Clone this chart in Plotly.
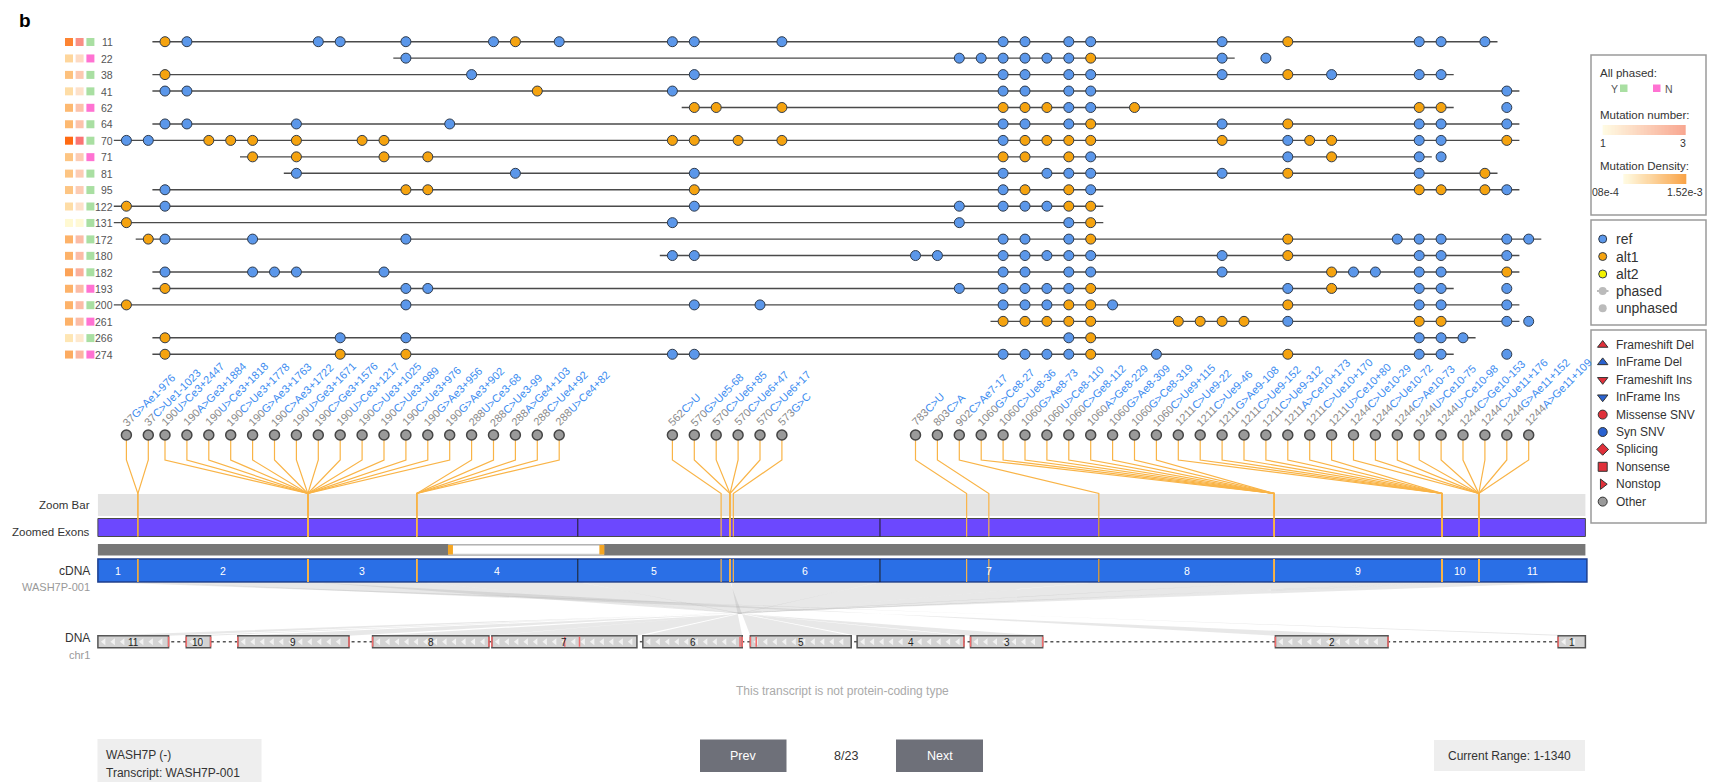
import numpy as np
import plotly.graph_objects as go

# ------------------------------------------------------------------ data
SAMPLES = [11, 22, 38, 41, 62, 64, 70, 71, 81, 95,
           122, 131, 172, 180, 182, 193, 200, 261, 266, 274]

# per-sample summaries shown as the two coloured squares
MUT_DENSITY = [1.31e-3, 5.3e-4, 7.4e-4, 4.6e-4, 8.2e-4, 8.2e-4, 1.52e-3, 7.0e-4, 7.0e-4, 7.0e-4,
               4.6e-4, 1.4e-4, 8.9e-4, 8.9e-4, 1.03e-3, 8.9e-4, 8.9e-4, 8.9e-4, 3.6e-4, 9.6e-4]
MUT_NUMBER = [2.7, 1.6, 1.9, 1.5, 2.0, 2.0, 3.0, 1.85, 1.85, 1.85,
              1.5, 1.05, 2.1, 2.1, 2.3, 2.1, 2.1, 2.1, 1.35, 2.2]

# called alleles per variant site: "<site><allele>", R = ref, A = alt1,
# upper case = phased, lower case = unphased
HAPLOTYPES = [
    "2A 3R 9R 10R 13R 17R 18A 20R 21R 22R 26R 31R 32R 34R 35R 41R 44A 50R 51R 53R",
    "13R 29R 30R 31R 32R 33R 34R 35A 41R 43r",
    "2A 16R 22R 31R 32R 34R 35R 41R 44A 46R 50R 51R",
    "2R 3R 19A 21R 31R 32R 34R 35R 54R",
    "22A 23A 26A 31A 32A 33A 34R 35R 37A 50A 51A 54r",
    "2R 3R 8R 15R 31R 32R 34R 35A 41R 44A 50R 51R 54R",
    "0R 1R 4A 5A 6A 8A 11A 12A 21A 22A 24A 26A 31R 32A 33A 34A 35A 41A 44R 45A 46A 50R 51R 54A",
    "6A 8A 12A 14A 31A 32A 34A 35R 44R 46A 50R 51r",
    "8R 18R 22R 31R 33R 34R 35R 41R 44A 50R 53A",
    "2R 13A 14A 22A 31R 32A 34A 35R 50A 51A 53A 54R",
    "0A 2R 22R 29R 31R 32R 33R 34A 35A",
    "0A 21R 29R 34R 35A",
    "1A 2R 6R 13R 31R 32R 34R 35A 44A 49R 50R 51R 54R 55R",
    "21R 22R 27R 28R 31R 32R 33R 34R 35R 41R 44A 50R 51R 54R",
    "2R 6R 7R 8R 12R 31R 32R 34R 35R 41R 46A 47R 48R 50R 51R 54A",
    "2A 13R 14R 29R 31R 32R 33R 34R 35A 44R 46A 50R 51R 54r",
    "0A 13R 22R 25R 31R 32R 33R 34A 35A 36R 44A 50R 51R 54R",
    "31A 32A 33A 34A 35A 39A 40A 41A 42A 44R 50A 51A 54R 55r",
    "2A 10R 13R 34R 35A 50R 51R 52R",
    "2A 10A 13A 21R 22R 31R 32R 33R 34R 35A 38R 44A 50R 51R 54r",
]

# variant sites: cDNA position and change
SITE_CDNA = [37, 37, 190, 190, 190, 190, 190, 190, 190, 190, 190, 190, 190, 190, 190, 190,
             288, 288, 288, 288, 288,
             562, 570, 570, 570, 570, 573,
             783, 803, 902, 1060, 1060, 1060, 1060, 1060, 1060, 1060, 1060, 1060,
             1211, 1211, 1211, 1211, 1211, 1211, 1211, 1211,
             1244, 1244, 1244, 1244, 1244, 1244, 1244, 1244, 1244]
SITE_CHANGE = ["G>Ae1-976", "C>Ue1-1023", "U>Ce3+2447", "A>Ge3+1884", "U>Ce3+1818", "C>Ue3+1778",
               "G>Ae3+1763", "C>Ae3+1722", "U>Ge3+1671", "C>Ge3+1576", "U>Ce3+1217", "C>Ue3+1025",
               "C>Ue3+989", "C>Ue3+976", "G>Ae3+956", "G>Ae3+902",
               "U>Ce3-68", "C>Ue3-99", "A>Ge4+103", "C>Ue4+92", "U>Ce4+82",
               "C>U", "G>Ue5-68", "C>Ue6+85", "C>Ue6+47", "C>Ue6+17", "G>C",
               "C>U", "C>A", "C>Ae7-17", "G>Ce8-27", "C>Ue8-36", "G>Ae8-73", "U>Ce8-110",
               "C>Ge8-112", "A>Ge8-229", "G>Ae8-309", "G>Ce8-319", "C>Ue9+115",
               "C>Ue9-22", "C>Ue9-46", "G>Ae9-108", "C>Ue9-152", "C>Ue9-312", "A>Ce10+173",
               "C>Ue10+170", "U>Ce10+80",
               "C>Ue10-29", "C>Ue10-72", "C>Ae10-73", "U>Ce10-75", "U>Ce10-98", "C>Ge10-153",
               "C>Ue11+176", "G>Ae11+152", "A>Ge11+109"]

GENE, STRAND, TRANSCRIPT, CHROM = "WASH7P", "-", "WASH7P-001", "chr1"
CDNA_LENGTH = 1340
EXON_ENDS = [37, 190, 288, 433, 570, 705, 902, 1060, 1211, 1244, 1340]
INTRON_LEN = [231, 316, 9, 8, 11, 8, 4, 32, 37, 24]   # compressed, exon k -> k+1
ZOOM_WINDOW = (317, 456)
PAGE, PAGES = 8, 23

# ------------------------------------------------------------------ style / layout
FONT = "Arial, 'Liberation Sans', Helvetica, sans-serif"
W, H = 1715, 782
REF_C, ALT_C, ALT2_C, EDGE_C = "#5B97EA", "#F5A30F", "#F2F200", "#2F3B4C"
LINK_C = "#F9B447"
DENS_SCALE = [[0, "#FFFCD6"], [0.25, "#FEDDA6"], [0.5, "#FDBA72"], [0.75, "#FB9548"], [1, "#FF6A12"]]
NUM_SCALE = [[0, "#FFFCD6"], [0.25, "#FDE1CA"], [0.5, "#FCC3AB"], [0.75, "#F9A191"], [1, "#FA7474"]]
DENS_LEG = [[0, "#FFFBE3"], [1, "#F9A448"]]
NUM_LEG = [[0, "#FFFBE3"], [1, "#F8A791"]]
PHASE_C = {True: "#A9DFA2", False: "#FF72D2"}

TRACK_X0, TRACK_X1 = 97.9, 1585.4
ROW_Y0, ROW_DY = 41.7, 16.45
SITE_X0, SITE_STEP = 126.4, 21.9
SITE_EXTRA_GAP = {2: -5.2, 21: 91.3, 27: 111.7}    # extra spacing before site k
OVERHANG = 12.6
LABEL_DOT_Y, STUB_Y, CONV_Y = 435, 460, 493.5
ZOOMBAR_Y = (494, 516)
ZEXON_Y = (518.5, 536.5)
RANGE_Y = (544, 555.5)
CDNA_Y = (559, 582)
DNA_Y = (635.7, 647.7)

site_x = [SITE_X0]
for k in range(1, len(SITE_CDNA)):
    site_x.append(site_x[-1] + SITE_STEP + SITE_EXTRA_GAP.get(k, 0))


def cdna_x(p):
    return TRACK_X0 + (p - 1) / (CDNA_LENGTH - 1) * (TRACK_X1 - TRACK_X0)


# genomic (DNA) track: minus strand, exon 1 on the right
dna_scale = (TRACK_X1 - TRACK_X0) / (CDNA_LENGTH + sum(INTRON_LEN))
exon_starts = [1] + [e + 1 for e in EXON_ENDS[:-1]]
dna_right, dna_left = [], []
cursor = TRACK_X1
for k, (s, e) in enumerate(zip(exon_starts, EXON_ENDS)):
    dna_right.append(cursor)
    cursor -= (e - s + 1) * dna_scale
    dna_left.append(cursor)
    if k < len(INTRON_LEN):
        cursor -= INTRON_LEN[k] * dna_scale


def dna_x(p):
    k = next(i for i, e in enumerate(EXON_ENDS) if p <= e)
    return dna_right[k] - (p - exon_starts[k] + 1) * dna_scale


fig = go.Figure()
shapes, ann = [], []


def rect(x0, y0, x1, y1, fill, line=None, lw=0, layer="below"):
    shapes.append(dict(type="rect", xref="x", yref="y", x0=x0, y0=y0, x1=x1, y1=y1,
                       fillcolor=fill, line=dict(color=line or fill, width=lw), layer=layer))


def text(x, y, s, size=11, color="#333", xa="left", ya="middle", **kw):
    ann.append(dict(x=x, y=y, xref="x", yref="y", text=s, showarrow=False,
                    font=dict(family=FONT, size=size, color=color),
                    xanchor=xa, yanchor=ya, **kw))


def lines(xs, ys, color, width, dash=None):
    fig.add_trace(go.Scatter(x=xs, y=ys, mode="lines", hoverinfo="skip",
                             line=dict(color=color, width=width, dash=dash)))


def dots(xs, ys, color, size, edge=EDGE_C, ew=1, symbol="circle"):
    fig.add_trace(go.Scatter(x=xs, y=ys, mode="markers", hoverinfo="skip",
                             marker=dict(color=color, size=size, symbol=symbol,
                                         line=dict(color=edge, width=ew))))


text(25, 20, "<b>b</b>", size=19, color="#000", xa="center")

# ------------------------------------------------------------------ haplotype rows
row_y = [ROW_Y0 + i * ROW_DY for i in range(len(SAMPLES))]
parsed = [[(int(t[:-1]), t[-1]) for t in h.split()] for h in HAPLOTYPES]
all_phased = [all(a.isupper() for _, a in calls) for calls in parsed]

lx, ly = [], []
ref_x, ref_y, alt_x, alt_y = [], [], [], []
for y, calls in zip(row_y, parsed):
    ph = [k for k, a in calls if a.isupper()]
    if ph:
        lx += [site_x[min(ph)] - OVERHANG, site_x[max(ph)] + OVERHANG, None]
        ly += [y, y, None]
    for k, a in calls:
        if a.upper() == "R":
            ref_x.append(site_x[k]); ref_y.append(y)
        else:
            alt_x.append(site_x[k]); alt_y.append(y)
lines(lx, ly, "#4A4A4A", 1.4)
dots(ref_x, ref_y, REF_C, 10)
dots(alt_x, alt_y, ALT_C, 10)

sq_y = [y + 0.3 for y in row_y]
fig.add_trace(go.Scatter(x=[69] * len(SAMPLES), y=sq_y, mode="markers", hoverinfo="skip",
                         marker=dict(symbol="square", size=8, color=MUT_DENSITY,
                                     colorscale=DENS_SCALE, cmin=1.08e-4, cmax=1.52e-3)))
fig.add_trace(go.Scatter(x=[79.6] * len(SAMPLES), y=sq_y, mode="markers", hoverinfo="skip",
                         marker=dict(symbol="square", size=8, color=MUT_NUMBER,
                                     colorscale=NUM_SCALE, cmin=1, cmax=3)))
fig.add_trace(go.Scatter(x=[90.4] * len(SAMPLES), y=sq_y, mode="markers", hoverinfo="skip",
                         marker=dict(symbol="square", size=8,
                                     color=[PHASE_C[p] for p in all_phased])))
for s, y in zip(SAMPLES, row_y):
    text(115, y + 0.5, str(s), size=10.5, color="#555", xa="right")

# ------------------------------------------------------------------ transcript tracks
rect(TRACK_X0, ZOOMBAR_Y[0], TRACK_X1, ZOOMBAR_Y[1], "#E4E4E4")
rect(TRACK_X0, ZEXON_Y[0], TRACK_X1, ZEXON_Y[1], "#6C48FE", "#4A4A4A", 1)
rect(TRACK_X0, RANGE_Y[0], TRACK_X1, RANGE_Y[1], "#777777")
wx0, wx1 = cdna_x(ZOOM_WINDOW[0]), cdna_x(ZOOM_WINDOW[1])
rect(wx0, RANGE_Y[0] + 1, wx1, RANGE_Y[1] - 1, "#FFFFFF", "#C8C8C8", 1.5)
rect(wx0 - 1, RANGE_Y[0] + 1, wx0 + 4, RANGE_Y[1] - 1, "#F5A623")
rect(wx1 - 4, RANGE_Y[0] + 1, wx1 + 1, RANGE_Y[1] - 1, "#F5A623")
rect(TRACK_X0, CDNA_Y[0], TRACK_X1 + 1.5, CDNA_Y[1], "#2A6FE6", "#1C3E8E", 1.5)

# cDNA <-> DNA exon links
for k, (s, e) in enumerate(zip(exon_starts, EXON_ENDS)):
    cl = cdna_x(s) if k else TRACK_X0
    cr = cdna_x(e)
    fig.add_trace(go.Scatter(x=[cl, cr, dna_left[k], dna_right[k], cl],
                             y=[CDNA_Y[1], CDNA_Y[1], DNA_Y[0], DNA_Y[0], CDNA_Y[1]],
                             mode="lines", fill="toself", fillcolor="rgba(150,150,150,0.22)",
                             line=dict(width=0), hoverinfo="skip"))

# exon junctions
bx, by = [], []
for e in EXON_ENDS[:-1]:
    x = cdna_x(e)
    bx += [x, x, None, x, x, None]
    by += [ZEXON_Y[0], ZEXON_Y[1], None, CDNA_Y[0], CDNA_Y[1], None]
lines(bx, by, "#1E1E1E", 1)

# exon numbers
bounds = [TRACK_X0] + [cdna_x(e) for e in EXON_ENDS]
for k in range(len(EXON_ENDS)):
    text((bounds[k] + bounds[k + 1]) / 2, (CDNA_Y[0] + CDNA_Y[1]) / 2, str(k + 1),
         size=10.5, color="#FFFFFF", xa="center")

# variant labels and their links to the transcript
kx, ky = [], []
for k, p in enumerate(SITE_CDNA):
    cx = cdna_x(p)
    kx += [site_x[k], site_x[k], cx, cx, None, cx, cx, None]
    ky += [LABEL_DOT_Y, STUB_Y, CONV_Y, ZEXON_Y[1], None, CDNA_Y[0], CDNA_Y[1], None]
    text(site_x[k] - 9, LABEL_DOT_Y - 4,
         f"<span style='color:#8A8A8A'>{p}</span>{SITE_CHANGE[k]}",
         size=11, color="#3C8CF0", ya="bottom", textangle=-45)
lines(kx, ky, LINK_C, 1.2)
dots(site_x, [LABEL_DOT_Y] * len(site_x), "#9A9A9A", 10, "#454545", 1.5)

# DNA track
dxs, dys = [], []
for k in range(len(EXON_ENDS) - 1):
    dxs += [dna_left[k], dna_right[k + 1], None]
    dys += [sum(DNA_Y) / 2] * 2 + [None]
lines(dxs, dys, "#555555", 1.5, "dot")
chev_x, chev_y = [], []
for k in range(len(EXON_ENDS)):
    rect(dna_left[k], DNA_Y[0], dna_right[k], DNA_Y[1], "#D3D3D3", "#545454", 1.5)
    for x in np.arange(dna_left[k] + 6, dna_right[k] - 3, 9.5):
        chev_x.append(x); chev_y.append(sum(DNA_Y) / 2)
    text((dna_left[k] + dna_right[k]) / 2, sum(DNA_Y) / 2 + 0.5, str(k + 1), size=10, color="#222", xa="center")
fig.add_trace(go.Scatter(x=chev_x, y=chev_y, mode="markers", hoverinfo="skip",
                         marker=dict(symbol="triangle-left", size=6, color="#F2F2F2")))
rx, ry = [], []
for p in sorted(set(SITE_CDNA)):
    marks = [dna_x(p)]
    if p in EXON_ENDS[:-1]:
        marks.append(dna_right[EXON_ENDS.index(p) + 1])
    for x in marks:
        rx += [x, x, None]
        ry += [DNA_Y[0] + 1, DNA_Y[1] - 1, None]
lines(rx, ry, "#F26A6A", 1.5)

# track captions
text(92, (ZOOMBAR_Y[0] + ZOOMBAR_Y[1]) / 2, "Zoom Bar", size=11.5, color="#333", xa="right")
text(92, 532, "Zoomed Exons", size=11.5, color="#333", xa="right")
text(92, 570.5, "cDNA", size=12, color="#333", xa="right")
text(92, 587, TRANSCRIPT, size=11, color="#999", xa="right")
text(92, 638, "DNA", size=12, color="#333", xa="right")
text(92, 654.5, CHROM, size=11, color="#999", xa="right")
text(842, 691, "This transcript is not protein-coding type", size=12, color="#AAAAAA", xa="center")

# ------------------------------------------------------------------ footer controls
rect(97.5, 739, 261.5, 782, "#EEEEEE")
text(104, 755, f"{GENE} ({STRAND})", size=12, color="#333")
text(104, 773, f"Transcript: {TRANSCRIPT}", size=12, color="#333")
rect(700, 739.5, 786.5, 772, "#6E7079")
text(743, 756, "Prev", size=12.5, color="#FFFFFF", xa="center")
text(845.5, 756, f"{PAGE}/{PAGES}", size=12.5, color="#333", xa="center")
rect(896, 739.5, 983, 772, "#6E7079")
text(939.5, 756, "Next", size=12.5, color="#FFFFFF", xa="center")
rect(1434, 740, 1585, 771, "#EEEEEE")
text(1509.5, 756, f"Current Range: 1-{CDNA_LENGTH}", size=12, color="#333", xa="center")

# ------------------------------------------------------------------ legends
LX0, LX1 = 1591, 1706
rect(LX0, 55, LX1, 215, "#FFFFFF", "#9A9A9A", 1.5)
text(1598, 72.5, "All phased:", size=11.5)
text(1609, 88.5, "Y", size=10.5, color="#555")
rect(1620, 84.5, 1627.5, 92, PHASE_C[True])
rect(1653, 84.5, 1660.5, 92, PHASE_C[False])
text(1663, 88.5, "N", size=10.5, color="#555")
text(1598, 115, "Mutation number:", size=11.5)
text(1598, 166, "Mutation Density:", size=11.5)
for (x0, x1, yc, scale) in [(1602.7, 1686, 130, NUM_LEG), (1623.3, 1686, 179, DENS_LEG)]:
    n = 60
    fig.add_trace(go.Heatmap(z=[np.linspace(0, 1, n)], x0=x0 + (x1 - x0) / n / 2, dx=(x1 - x0) / n,
                             y0=yc, dy=10, colorscale=scale, showscale=False, hoverinfo="skip"))
text(1598, 142.5, "1", size=10.5, color="#333")
text(1688, 142.5, "3", size=10.5, color="#333", xa="right")
text(1590, 192, "08e-4", size=10.5, color="#333")
text(1705, 192, "1.52e-3", size=10.5, color="#333", xa="right")

rect(LX0, 220, LX1, 325, "#FFFFFF", "#9A9A9A", 1.5)
leg2 = ["ref", "alt1", "alt2", "phased", "unphased"]
leg2_y = [239, 256.5, 274, 291, 308.3]
dots([1602.7] * 3, leg2_y[:3], [REF_C, ALT_C, ALT2_C], 8)
lines([1597, 1608.5], [leg2_y[3]] * 2, "#BBBBBB", 2)
dots([1602.7] * 2, leg2_y[3:], "#BBBBBB", 8, "#BBBBBB", 0)
for s, y in zip(leg2, leg2_y):
    text(1614, y, s, size=14, color="#333")

rect(LX0, 330, LX1, 523, "#FFFFFF", "#9A9A9A", 1.5)
leg3 = ["Frameshift Del", "InFrame Del", "Frameshift Ins", "InFrame Ins", "Missense SNV",
        "Syn SNV", "Splicing", "Nonsense", "Nonstop", "Other"]
leg3_sym = ["triangle-up", "triangle-up", "triangle-down", "triangle-down", "circle",
            "circle", "diamond", "square", "triangle-right", "circle"]
leg3_col = ["#E0303A", "#2A62D0", "#E0303A", "#2A62D0", "#E0303A",
            "#2A62D0", "#E0303A", "#E0303A", "#E0303A", "#9A9A9A"]
leg3_y = [345 + 17.4 * i for i in range(len(leg3))]
for s, y, sym, c in zip(leg3, leg3_y, leg3_sym, leg3_col):
    dots([1602.7], [y], c, 9, "#333333", 1, sym)
    text(1614, y, s, size=12, color="#333")

fig.update_layout(width=W, height=H, margin=dict(l=0, r=0, t=0, b=0),
                  paper_bgcolor="white", plot_bgcolor="white", showlegend=False,
                  xaxis=dict(range=[0, W], visible=False, fixedrange=True),
                  yaxis=dict(range=[H, 0], visible=False, fixedrange=True),
                  shapes=shapes, annotations=ann)
fig.write_html("out.html")
